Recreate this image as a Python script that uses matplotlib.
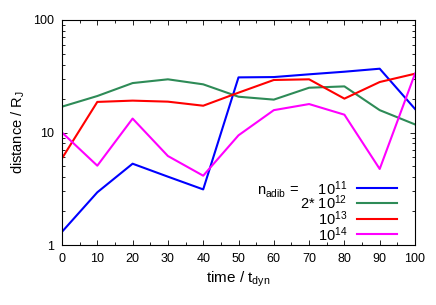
import matplotlib
matplotlib.use("Agg")
import matplotlib.pyplot as plt
from matplotlib.ticker import MultipleLocator, FixedLocator, NullFormatter, FixedFormatter

plt.rcParams['font.family'] = ['Liberation Sans', 'DejaVu Sans']
plt.rcParams['mathtext.default'] = 'regular'

time = [0, 10, 20, 30, 40, 50, 60, 70, 80, 90, 100]
d_1e11 = [1.31, 2.94, 5.28, 4.05, 3.12, 30.9, 31.1, 32.9, 34.7, 36.9, 16.2]
d_2e12 = [16.97, 21.1, 27.5, 29.7, 26.8, 20.8, 19.6, 25.0, 25.7, 15.8, 11.8]
d_1e13 = [5.89, 18.7, 19.2, 18.8, 17.3, 22.6, 29.3, 29.7, 20.0, 28.1, 33.3]
d_1e14 = [10.0, 5.07, 13.3, 6.18, 4.13, 9.44, 15.8, 17.9, 14.4, 4.74, 33.3]

labels = [r'n$_{adib}$ =     10$^{11}$', r'2* 10$^{12}$', r'10$^{13}$', r'10$^{14}$']
colors = ['#0000ff', '#2e8b57', '#ff0000', '#ff00ff']
series = [d_1e11, d_2e12, d_1e13, d_1e14]

fig = plt.figure(figsize=(4.36, 3.05), dpi=100)
ax = fig.add_axes([62/436, 60/305, 353/436, 225/305])

for s, c in zip(series, colors):
    ax.plot(time, s, color=c, lw=1.5)

ax.set_yscale('log')
ax.set_xlim(0, 100)
ax.set_ylim(1, 100)
ax.xaxis.set_major_locator(MultipleLocator(10))
ax.xaxis.set_minor_locator(MultipleLocator(5))
ax.yaxis.set_major_locator(FixedLocator([1, 10, 100]))
ax.yaxis.set_major_formatter(FixedFormatter(['1', '10', '100']))
minors = [m * 10**e for e in (0, 1) for m in range(2, 10)]
ax.yaxis.set_minor_locator(FixedLocator(minors))
ax.yaxis.set_minor_formatter(NullFormatter())

ax.tick_params(which='both', direction='in', top=True, right=True, width=0.6, labelsize=9)
ax.tick_params(which='major', length=3.5)
ax.tick_params(which='minor', length=2.0)
ax.tick_params(axis='x', pad=6)
ax.tick_params(axis='y', pad=6)
for sp in ax.spines.values():
    sp.set_linewidth(0.8)

ax.set_xlabel(r'time / t$_{dyn}$', fontsize=11, labelpad=3)
ax.set_ylabel(r'distance / R$_J$', fontsize=10.5, labelpad=4)

# key (gnuplot-style, right-justified text followed by sample line)
row_y = [187.7, 203.0, 219.0, 234.0]
for lab, c, yp in zip(labels, colors, row_y):
    fy = (245 - yp) / 225
    ax.text((347 - 62) / 353, fy - 6.5 / 225, lab, transform=ax.transAxes,
            ha='right', va='baseline', fontsize=10.5)
    ax.plot([(357 - 62) / 353, (397 - 62) / 353], [fy, fy], transform=ax.transAxes,
            color=c, lw=1.5, clip_on=False)

fig.savefig('out.png', dpi=100)
